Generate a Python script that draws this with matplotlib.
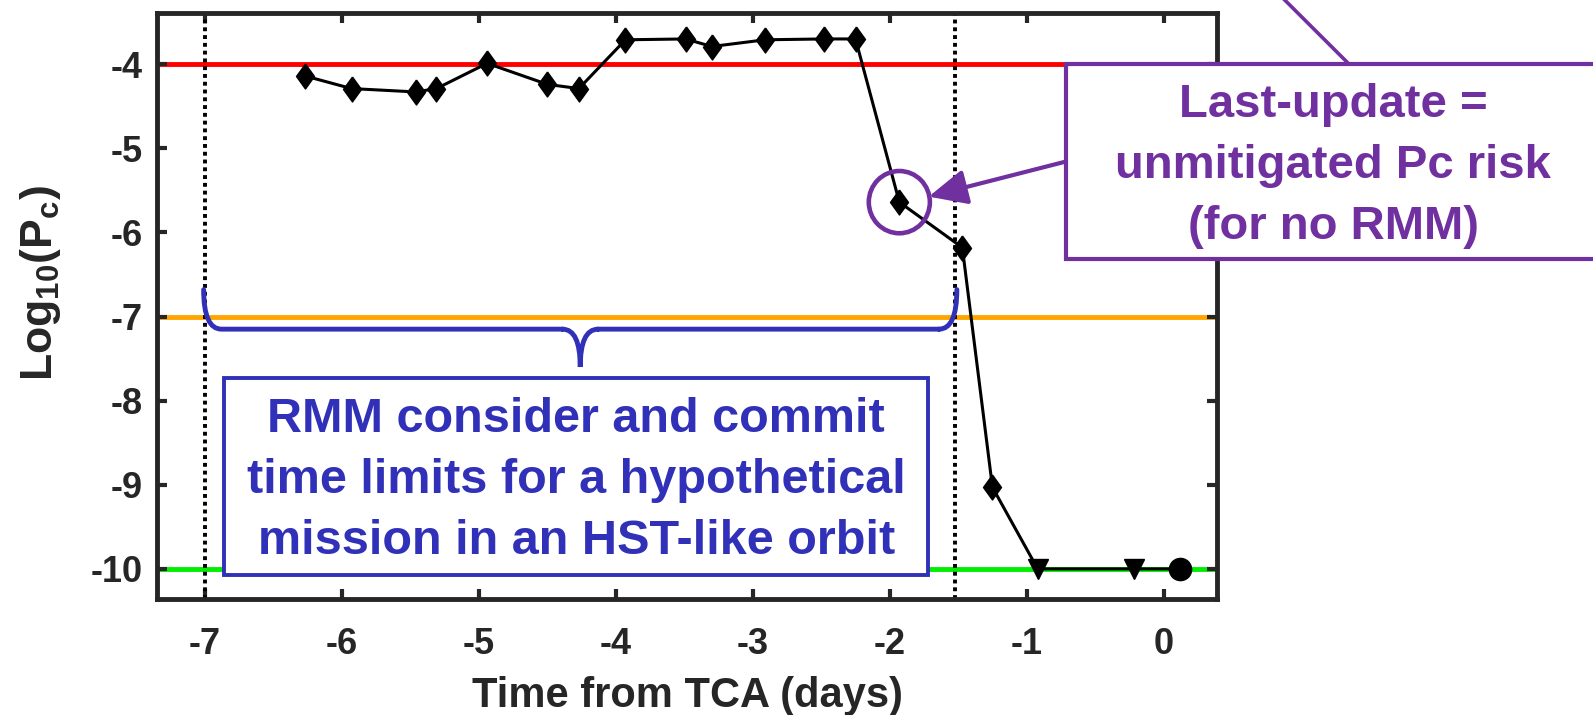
import numpy as np
import matplotlib.pyplot as plt
from matplotlib.patches import Rectangle, Ellipse, FancyArrowPatch, PathPatch
from matplotlib.path import Path
from matplotlib.lines import Line2D

plt.rcParams['font.family'] = ['Liberation Sans', 'DejaVu Sans']
plt.rcParams['font.weight'] = 'bold'
plt.rcParams['mathtext.default'] = 'regular'
plt.rcParams['axes.unicode_minus'] = False

# CDM history: time from TCA (days) and log10 of collision probability
days = [-6.27, -5.93, -5.46, -5.31, -4.94, -4.50, -4.27, -3.93, -3.49, -3.30,
        -2.91, -2.48, -2.25, -1.93, -1.47, -1.25, -0.92, -0.22, 0.12]
log_pc = [-4.14, -4.29, -4.33, -4.29, -3.99, -4.24, -4.29, -3.71, -3.70, -3.79,
          -3.71, -3.70, -3.70, -5.64, -6.18, -9.03, -10.0, -10.0, -10.0]
kinds = ['d'] * 16 + ['v'] * 2 + ['o']

thresholds = [-4, -7, -10]
threshold_colors = ['#ff0000', '#ffa500', '#00ee00']
commit_limits = [-7.0, -1.52]
last_update = 13   # index of the point used as unmitigated risk

xticks = [-7, -6, -5, -4, -3, -2, -1, 0]
yticks = [-10, -9, -8, -7, -6, -5, -4]

blue = '#3030b8'
purple = '#7030a0'
dark = '#262626'

fig = plt.figure(figsize=(15.93, 7.15), dpi=100)
ax = fig.add_axes([0.0986, 0.162, 0.6654, 0.820])

for yv, c in zip(thresholds, threshold_colors):
    ax.axhline(yv, color=c, lw=3.5, zorder=1)
for xv in commit_limits:
    ax.axvline(xv, color='black', lw=2.8, ls=(0, (1, 1)), zorder=2)

tall_diamond = [(0, 1), (0.72, 0), (0, -1), (-0.72, 0), (0, 1)]
ax.plot(days, log_pc, color='black', lw=2.2, zorder=4)
for x, y, k in zip(days, log_pc, kinds):
    if k == 'd':
        ax.plot(x, y, marker=tall_diamond, ms=18, color='black', zorder=5)
    elif k == 'v':
        ax.plot(x, y, marker='v', ms=14, color='black', zorder=5)
    else:
        ax.plot(x, y, marker='o', ms=16, color='black', zorder=5)

ax.set_xlim(-7.35, 0.39)
ax.set_ylim(-10.36, -3.39)
ax.set_xticks(xticks)
ax.set_yticks(yticks)
ax.tick_params(direction='in', length=7, width=3, color=dark, top=True, right=True,
               labelsize=26, labelcolor=dark)
ax.tick_params(axis='x', pad=20)
ax.tick_params(axis='y', pad=10)
for lab in ax.get_xticklabels() + ax.get_yticklabels():
    lab.set_fontweight('bold')
for s in ax.spines.values():
    s.set_linewidth(3.5)
    s.set_color(dark)

ax.set_xlabel('Time from TCA (days)', fontsize=30, fontweight='bold', color=dark, labelpad=10)
ax.set_ylabel(r'Log$_{10}$(P$_{c}$)', fontsize=32, fontweight='bold', color=dark)
ax.yaxis.set_label_coords(-0.089, 0.54)

# curly brace over the consider/commit window
bl, br, tip = commit_limits[0] - 0.01, commit_limits[1] + 0.01, -4.26
ytop, ymid, ybot = -6.68, -7.15, -7.60
verts = [(bl, ytop), (bl, ymid), (bl + 0.13, ymid), (bl + 0.13, ymid),
         (tip - 0.13, ymid), (tip - 0.13, ymid), (tip, ymid), (tip, ybot),
         (tip, ymid), (tip + 0.13, ymid), (tip + 0.13, ymid),
         (br - 0.13, ymid), (br - 0.13, ymid), (br, ymid), (br, ytop)]
codes = [Path.MOVETO, Path.CURVE3, Path.CURVE3, Path.LINETO,
         Path.LINETO, Path.MOVETO, Path.CURVE3, Path.CURVE3,
         Path.CURVE3, Path.CURVE3, Path.MOVETO,
         Path.LINETO, Path.MOVETO, Path.CURVE3, Path.CURVE3]
ax.add_patch(PathPatch(Path(verts, codes), fill=False, edgecolor=blue, lw=3.5,
                       capstyle='round', zorder=6, clip_on=False))

ax.add_patch(Rectangle((-6.86, -10.07), 5.14, 2.34, facecolor='white', edgecolor=blue,
                       lw=2.8, zorder=7, clip_on=False))
for i, line in enumerate(['RMM consider and commit', 'time limits for a hypothetical',
                          'mission in an HST-like orbit']):
    ax.text(-4.29, -8.22 - 0.725 * i, line, color=blue, fontsize=35, fontweight='bold',
            ha='center', va='center', zorder=8)

# circle around the last update before the commit point
ax.add_patch(Ellipse((days[last_update], log_pc[last_update]), 0.446, 0.74, fill=False,
                     edgecolor=purple, lw=3.3, zorder=9, clip_on=False))

# purple callout outside the axes
fig.add_artist(Line2D([0.793, 0.847], [1.03, 0.910], color=purple, lw=2.6, zorder=9))
fig.add_artist(Rectangle((0.669, 0.638), 0.345, 0.272, transform=fig.transFigure,
                         facecolor='white', edgecolor=purple, lw=3, zorder=10))
for i, line in enumerate(['Last-update =', 'unmitigated Pc risk', '(for no RMM)']):
    fig.text(0.837, 0.853 - 0.085 * i, line, color=purple, fontsize=34, fontweight='bold',
             ha='center', va='center', zorder=11)
fig.add_artist(FancyArrowPatch((0.669, 0.774), (0.583, 0.725), transform=fig.transFigure,
                               arrowstyle='-|>,head_length=1.3,head_width=0.6',
                               mutation_scale=18, color=purple, lw=3, zorder=10,
                               shrinkA=0, shrinkB=0))

fig.savefig('out.png', dpi=100)
